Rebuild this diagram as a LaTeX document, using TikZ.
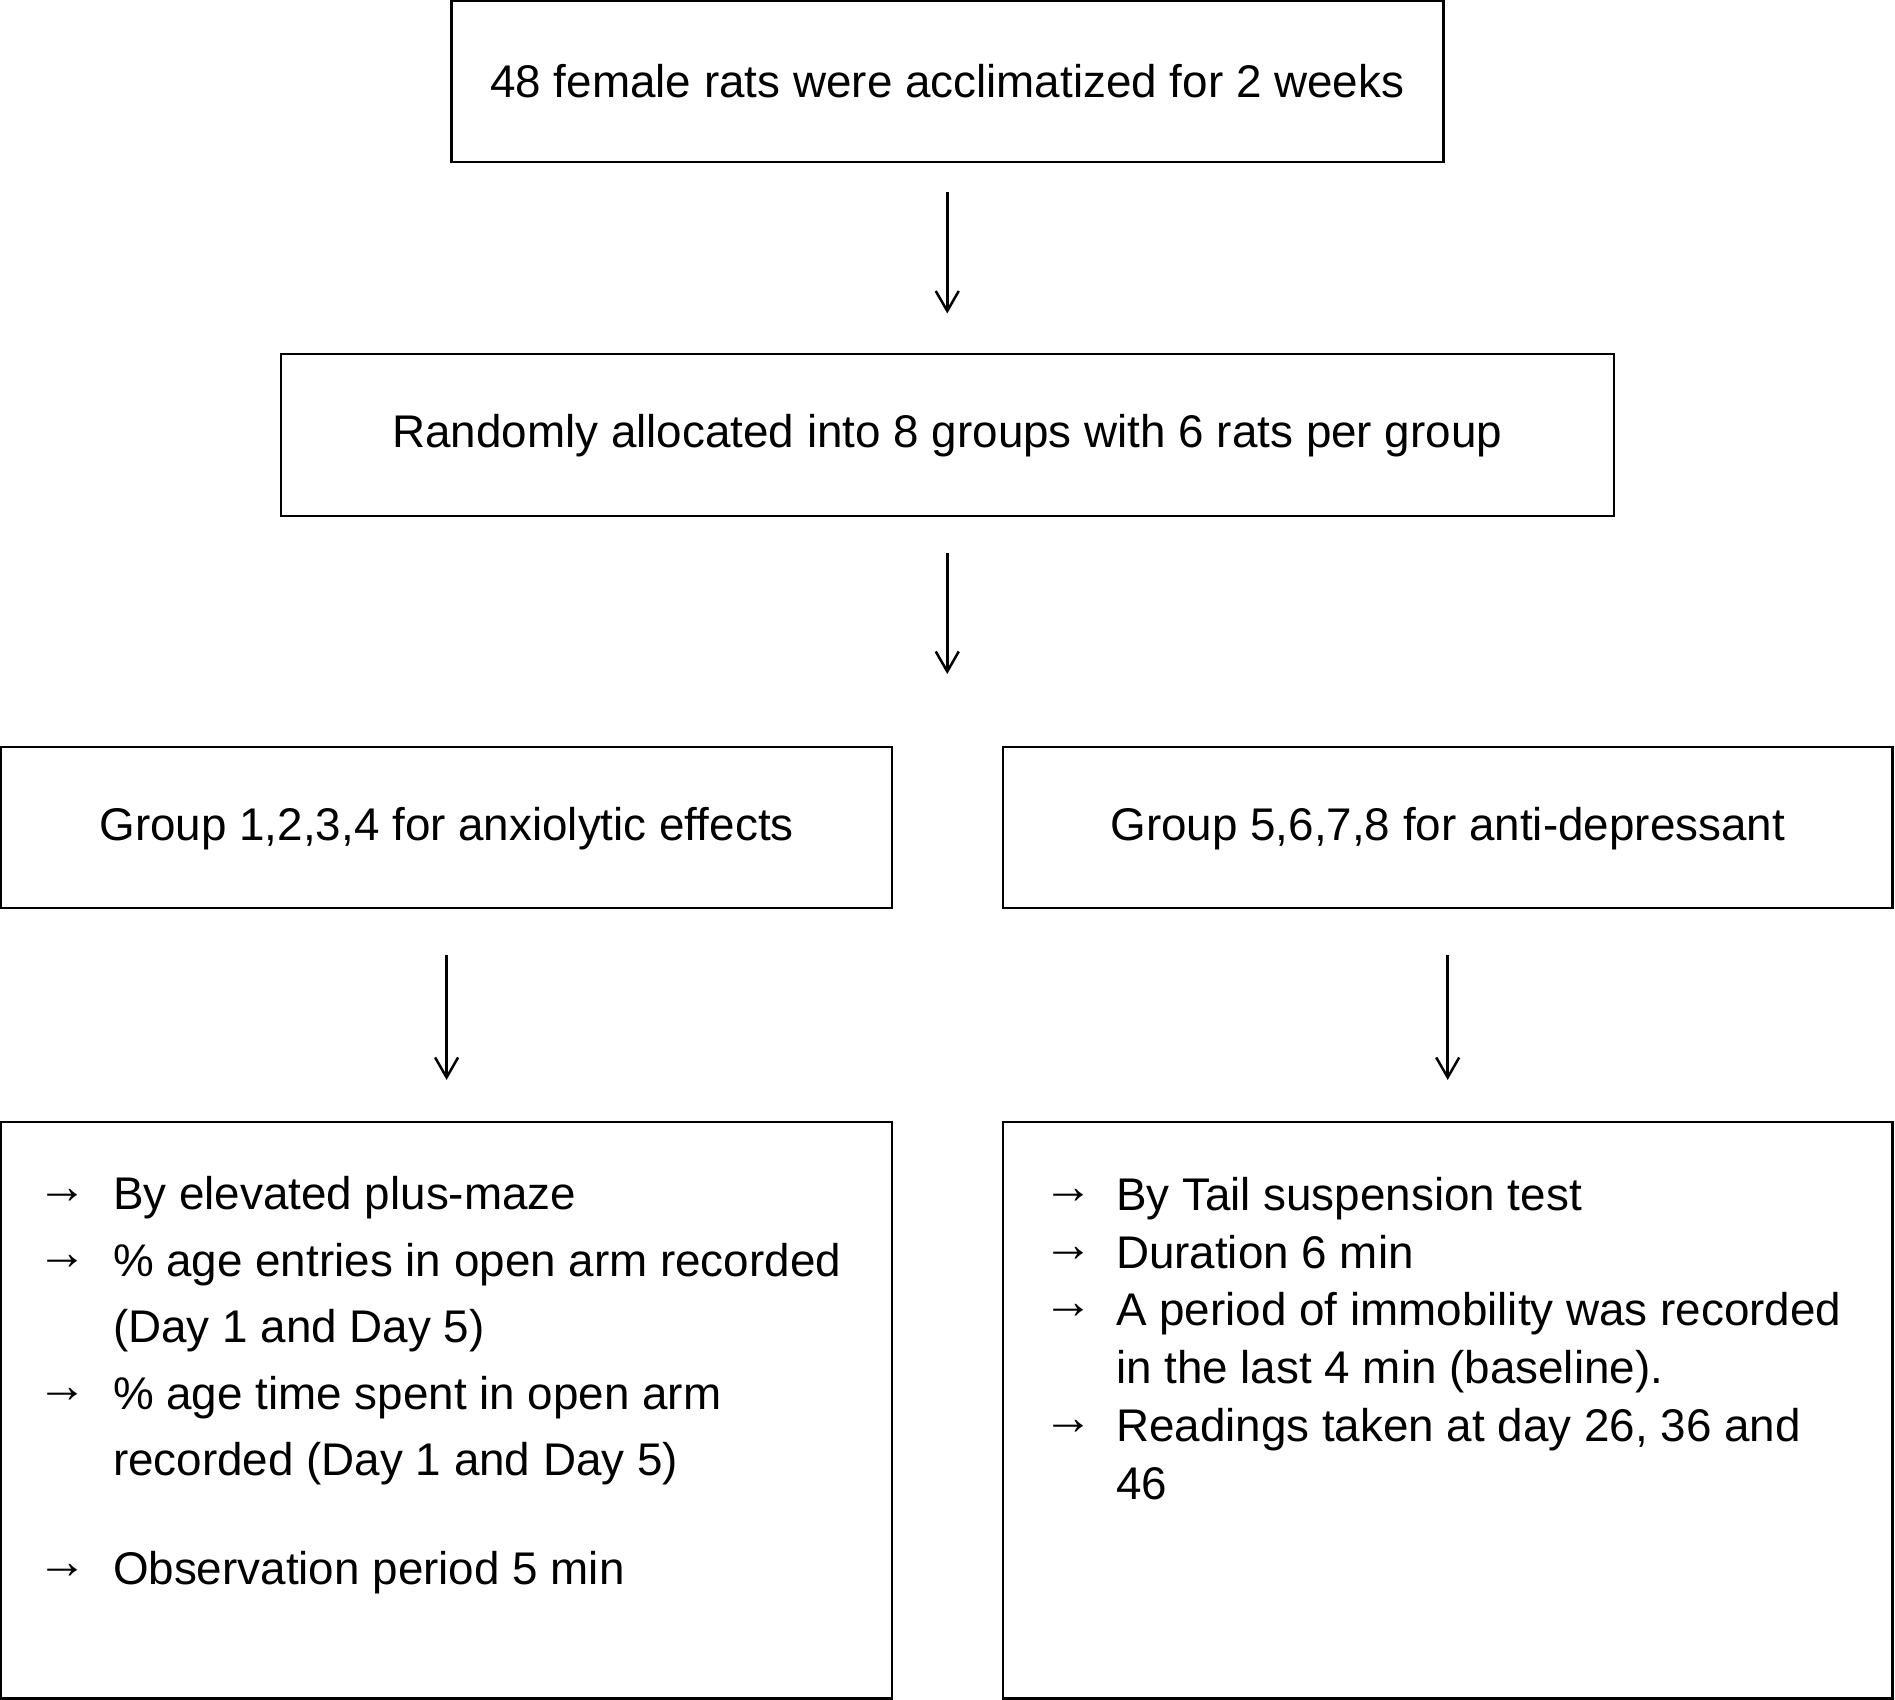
\documentclass[tikz,border=0pt]{standalone}
\usepackage{fontspec}
\setmainfont{Liberation Sans}
\usetikzlibrary{arrows.meta}
\begin{document}
\begin{tikzpicture}[x=0.5pt,y=-0.5pt,
  box/.style={draw=black, line width=1.25pt, outer sep=0pt, inner sep=0pt, align=center,
    text height=16.4pt, text depth=0pt, font=\fontsize{22.9pt}{27pt}\selectfont},
  raised/.style={text depth=3.6pt},
  flow/.style={line width=1.25pt, -{Straight Barb[length=10pt,width=11.5pt,line width=1.25pt]}},
  btxt/.style={anchor=base west, inner sep=0pt, outer sep=0pt, font=\fontsize{22.9pt}{27pt}\selectfont},
  barr/.style={anchor=base west, inner sep=0pt, outer sep=0pt, font=\fontsize{25pt}{27pt}\selectfont},
]
\useasboundingbox (0,0) rectangle (1895,1700);
% boxes
\node[box, minimum width=496pt, minimum height=80.5pt] (b1) at (947.25,81.6) {48 female rats were acclimatized for 2 weeks};
\node[box, raised, minimum width=666.5pt, minimum height=81pt] (b2) at (947.25,435) {Randomly allocated into 8 groups with 6 rats per group};
\node[box, raised, minimum width=445.4pt, minimum height=80.5pt] (g1) at (446.6,827.5) {Group 1,2,3,4 for anxiolytic effects};
\node[box, raised, minimum width=444.75pt, minimum height=80.5pt] (g2) at (1447.7,827.5) {Group 5,6,7,8 for anti-depressant};
\node[box, minimum width=445.4pt, minimum height=288.25pt] (r1) at (446.6,1410.2) {};
\node[box, minimum width=444.75pt, minimum height=288.25pt] (r2) at (1447.7,1410.2) {};
\coordinate (split) at (947.25,674);
% connectors
\draw[flow, shorten <=15pt, shorten >=20.25pt] (b1) -- (b2);
\draw[flow, shorten <=18.5pt] (b2) -- (split);
\draw[flow, shorten <=23.5pt, shorten >=21pt] (g1) -- (r1);
\draw[flow, shorten <=23.5pt, shorten >=21pt] (g2) -- (r2);
% left list
\node[barr] (la1) at (38,1203) {→};
\node[btxt] (lt1) at (113,1209.5) {By elevated plus-maze};
\node[barr] (la2) at (38,1269.5) {→};
\node[btxt] (lt2) at (113,1276) {\% age entries in open arm recorded};
\node[btxt] (lt3) at (113,1342.5) {(Day 1 and Day 5)};
\node[barr] (la4) at (38,1402.5) {→};
\node[btxt] (lt4) at (113,1409) {\% age time spent in open arm};
\node[btxt] (lt5) at (113,1475.5) {recorded (Day 1 and Day 5)};
\node[barr] (la6) at (38,1578) {→};
\node[btxt] (lt6) at (113,1584.5) {Observation period 5 min};
% right list
\node[barr] (ra1) at (1043,1203.5) {→};
\node[btxt] (rt1) at (1116,1210) {By Tail suspension test};
\node[barr] (ra2) at (1043,1261.5) {→};
\node[btxt] (rt2) at (1116,1268) {Duration 6 min};
\node[barr] (ra3) at (1043,1318.5) {→};
\node[btxt] (rt3) at (1116,1325) {A period of immobility was recorded};
\node[btxt] (rt4) at (1116,1383) {in the last 4 min (baseline).};
\node[barr] (ra5) at (1043,1434.5) {→};
\node[btxt] (rt5) at (1116,1441) {Readings taken at day 26, 36 and};
\node[btxt] (rt6) at (1116,1499) {46};
\end{tikzpicture}
\end{document}
